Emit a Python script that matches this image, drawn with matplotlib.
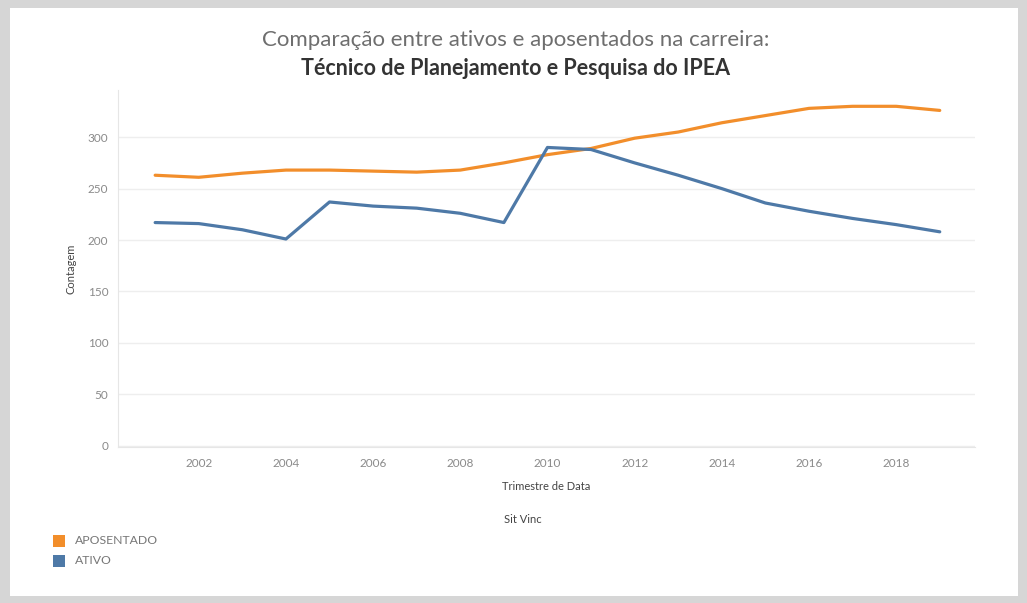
import matplotlib
matplotlib.use('Agg')
import matplotlib.pyplot as plt
from matplotlib.patches import Rectangle

plt.rcParams['font.family'] = ['Lato', 'DejaVu Sans']

anos = list(range(2001, 2020))
aposentado = [263, 261, 265, 268, 268, 267, 266, 268, 275, 283,
              289, 299, 305, 314, 321, 328, 330, 330, 326]
ativo = [217, 216, 210, 201, 237, 233, 231, 226, 217, 290,
         288, 275, 263, 250, 236, 228, 221, 215, 208]
rotulos_x = [2002, 2004, 2006, 2008, 2010, 2012, 2014, 2016, 2018]
rotulos_y = [0, 50, 100, 150, 200, 250, 300]

cor_apos = '#F28E2B'
cor_ativo = '#4E79A7'

fig = plt.figure(figsize=(10.27, 6.03), dpi=100)
fig.patch.set_facecolor('#d6d6d6')
# moldura branca interna
fundo = Rectangle((10 / 1027, 7 / 603), 1008 / 1027, 588 / 603,
                  transform=fig.transFigure, facecolor='white',
                  edgecolor='none', zorder=-10)
fig.patches.append(fundo)

ax = fig.add_axes([0.115, 0.259, 0.834, 0.592])
ax.set_facecolor('none')
ax.plot(anos, aposentado, color=cor_apos, lw=2.3, solid_capstyle='round')
ax.plot(anos, ativo, color=cor_ativo, lw=2.3, solid_capstyle='round')

ax.set_xlim(2000.15, 2019.8)
ax.set_ylim(-1, 346)
ax.set_xticks(rotulos_x)
ax.set_xticklabels([str(a) for a in rotulos_x])
ax.set_yticks(rotulos_y)
ax.tick_params(length=0, labelsize=8.5, colors='#8a8a8a', pad=7)
ax.tick_params(axis='x', pad=8)
ax.grid(axis='y', color='#eeeeee', lw=1)
for s in ['top', 'right']:
    ax.spines[s].set_visible(False)
ax.spines['left'].set_color('#e6e6e6')
ax.spines['bottom'].set_color('#e6e6e6')

ax.set_ylabel('Contagem', fontsize=8, color='#444444', labelpad=8)
ax.set_xlabel('Trimestre de Data', fontsize=8, color='#444444', labelpad=9)

fig.text(0.502, 0.933, 'Comparação entre ativos e aposentados na carreira:',
         ha='center', va='center', fontsize=16, color='#6e6e6e')
fig.text(0.502, 0.886, 'Técnico de Planejamento e Pesquisa do IPEA',
         ha='center', va='center', fontsize=15.5, color='#333333', fontweight='bold')

fig.text(0.509, 0.139, 'Sit Vinc', ha='center', va='center', fontsize=8, color='#444444')

# legenda
for i, (nome, cor) in enumerate([('APOSENTADO', cor_apos), ('ATIVO', cor_ativo)]):
    yy = 1 - (541 + i * 20) / 603
    fig.patches.append(Rectangle((53 / 1027, yy - 6 / 603), 12 / 1027, 12 / 603,
                                 transform=fig.transFigure, facecolor=cor,
                                 edgecolor='none'))
    fig.text(75 / 1027, yy, nome, ha='left', va='center', fontsize=8.8, color='#777777')

fig.savefig('out.png', dpi=100, facecolor=fig.get_facecolor())
